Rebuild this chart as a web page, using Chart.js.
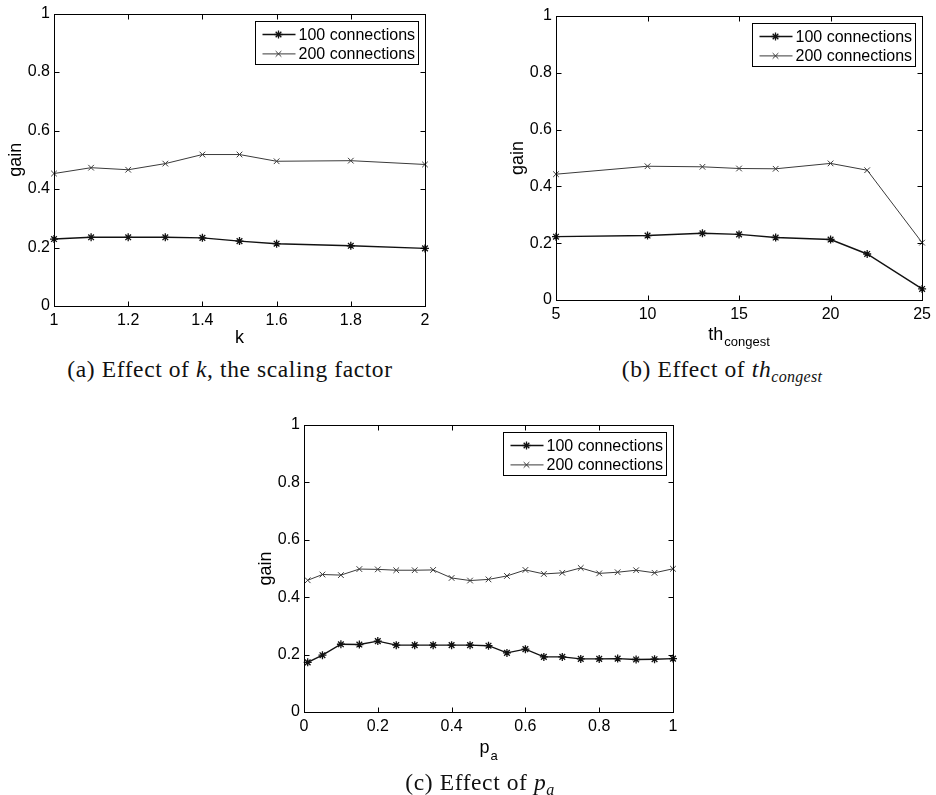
<!DOCTYPE html>
<html>
<head>
<meta charset="utf-8">
<title>Gain vs. k, th_congest and p_a</title>
<script src="https://cdn.jsdelivr.net/npm/chart.js@4.4.1/dist/chart.umd.min.js"></script>
<style>
  body { margin: 0; background: #fff; }
  #page { position: relative; width: 936px; height: 795px; overflow: hidden; }
  canvas { position: absolute; }
  .caption {
    position: absolute;
    width: 500px;
    text-align: center;
    font-family: "Liberation Serif", "DejaVu Serif", serif;
    font-size: 23.5px;
    letter-spacing: 0.6px;
    line-height: 26px;
    color: #111;
    white-space: nowrap;
  }
  .caption sub { font-size: 16px; line-height: 0; vertical-align: -5px; letter-spacing: 0.3px; }
</style>
</head>
<body>
<div id="page">
  <canvas id="chartK" width="460" height="355" style="left:0;top:0"></canvas>
  <canvas id="chartTh" width="466" height="355" style="left:470px;top:0"></canvas>
  <canvas id="chartPa" width="450" height="380" style="left:250px;top:390px"></canvas>
  <div class="caption" style="left:-20px;top:356px">(a) Effect of <i>k</i>, the scaling factor</div>
  <div class="caption" style="left:472px;top:356px">(b) Effect of <i>th<sub>congest</sub></i></div>
  <div class="caption" style="left:230px;top:769px">(c) Effect of <i>p<sub>a</sub></i></div>
</div>

<script>
// series labels
const seriesNames = ["100 connections", "200 connections"];

// shared gain axis
const gainTicks = [0, 0.2, 0.4, 0.6, 0.8, 1];

// (a) scaling factor k
const kValues = [1, 1.1, 1.2, 1.3, 1.4, 1.5, 1.6, 1.8, 2];
const kTicks = [1, 1.2, 1.4, 1.6, 1.8, 2];
const gainK100 = [0.229, 0.235, 0.235, 0.235, 0.233, 0.222, 0.213, 0.206, 0.197];
const gainK200 = [0.453, 0.473, 0.466, 0.487, 0.518, 0.518, 0.495, 0.497, 0.484];

// (b) congestion threshold
const thValues = [5, 10, 13, 15, 17, 20, 22, 25];
const thTicks = [5, 10, 15, 20, 25];
const gainTh100 = [0.223, 0.227, 0.235, 0.231, 0.22, 0.213, 0.162, 0.039];
const gainTh200 = [0.443, 0.471, 0.469, 0.463, 0.462, 0.481, 0.457, 0.202];

// (c) p_a
const paValues = [0.01, 0.05, 0.1, 0.15, 0.2, 0.25, 0.3, 0.35, 0.4, 0.45, 0.5,
                  0.55, 0.6, 0.65, 0.7, 0.75, 0.8, 0.85, 0.9, 0.95, 1];
const paTicks = [0, 0.2, 0.4, 0.6, 0.8, 1];
const gainPa100 = [0.173, 0.198, 0.236, 0.235, 0.247, 0.233, 0.233, 0.233, 0.233, 0.233, 0.231,
                   0.206, 0.219, 0.192, 0.192, 0.185, 0.185, 0.186, 0.183, 0.184, 0.186];
const gainPa200 = [0.459, 0.479, 0.477, 0.498, 0.497, 0.494, 0.494, 0.495, 0.467, 0.458, 0.462,
                   0.474, 0.495, 0.481, 0.485, 0.502, 0.483, 0.487, 0.494, 0.485, 0.499];

const SANS = '"Liberation Sans", Arial, Helvetica, sans-serif';
Chart.defaults.font.family = SANS;
Chart.defaults.color = "#000";

const toPoints = (xs, ys) => xs.map((x, i) => ({ x: x, y: ys[i] }));
const fmt = (v) => String(+v.toFixed(2));

// matlab-like box: frame, inward ticks, axis titles and a boxed legend
const matlabBox = {
  id: "matlabBox",
  afterDraw(chart, args, opts) {
    const { ctx, chartArea: area, scales } = chart;
    const L = Math.round(area.left) + 0.5;
    const R = Math.round(area.right) + 0.5;
    const T = Math.round(area.top) + 0.5;
    const B = Math.round(area.bottom) + 0.5;
    ctx.save();

    ctx.strokeStyle = "#000";
    ctx.lineWidth = 1;
    ctx.strokeRect(L, T, R - L, B - T);
    ctx.beginPath();
    scales.x.ticks.forEach((t) => {
      const px = Math.round(scales.x.getPixelForValue(t.value)) + 0.5;
      ctx.moveTo(px, B); ctx.lineTo(px, B - 5);
      ctx.moveTo(px, T); ctx.lineTo(px, T + 5);
    });
    scales.y.ticks.forEach((t) => {
      const py = Math.round(scales.y.getPixelForValue(t.value)) + 0.5;
      ctx.moveTo(L, py); ctx.lineTo(L + 5, py);
      ctx.moveTo(R, py); ctx.lineTo(R - 5, py);
    });
    ctx.stroke();

    // x title with optional subscript
    const xt = opts.xTitle;
    ctx.fillStyle = "#000";
    ctx.textAlign = "left";
    ctx.textBaseline = "alphabetic";
    ctx.font = "18px " + SANS;
    const wMain = ctx.measureText(xt.main).width;
    ctx.font = "13px " + SANS;
    const wSub = xt.sub ? ctx.measureText(xt.sub).width + 1 : 0;
    const sx = (area.left + area.right) / 2 - (wMain + wSub) / 2;
    const base = area.bottom + xt.offset;
    ctx.font = "18px " + SANS;
    ctx.fillText(xt.main, sx, base);
    if (xt.sub) {
      ctx.font = "13px " + SANS;
      ctx.fillText(xt.sub, sx + wMain + 1, base + xt.subDrop);
    }

    // y title
    ctx.save();
    ctx.translate(area.left - 38, (area.top + area.bottom) / 2);
    ctx.rotate(-Math.PI / 2);
    ctx.textAlign = "center";
    ctx.textBaseline = "middle";
    ctx.font = "18px " + SANS;
    ctx.fillText(opts.yTitle, 0, 0);
    ctx.restore();

    // legend box in the upper right corner
    const lw = 163, lh = 43;
    const bx = Math.round(area.right - 7 - lw) + 0.5;
    const by = Math.round(area.top + 7) + 0.5;
    ctx.fillStyle = "#fff";
    ctx.fillRect(bx, by, lw, lh);
    ctx.strokeStyle = "#000";
    ctx.lineWidth = 1;
    ctx.strokeRect(bx, by, lw, lh);
    chart.data.datasets.forEach((ds, i) => {
      const ry = by + 13 + i * 19.4;
      ctx.strokeStyle = ds.borderColor;
      ctx.lineWidth = ds.borderWidth;
      ctx.beginPath();
      ctx.moveTo(bx + 7, ry);
      ctx.lineTo(bx + 40, ry);
      ctx.stroke();
      ctx.lineWidth = ds.pointBorderWidth;
      ctx.fillStyle = ds.borderColor;
      Chart.helpers.drawPoint(ctx, {
        pointStyle: ds.pointStyle,
        radius: ds.pointRadius,
        borderWidth: ds.pointBorderWidth,
        rotation: 0
      }, bx + 23, ry);
      ctx.fillStyle = "#000";
      ctx.font = "16px " + SANS;
      ctx.textAlign = "left";
      ctx.textBaseline = "middle";
      ctx.fillText(ds.label, bx + 43, ry + 1);
    });

    ctx.restore();
  }
};

function makeChart(id, cfg) {
  return new Chart(document.getElementById(id), {
    type: "line",
    data: {
      datasets: [
        {
          label: seriesNames[0],
          data: toPoints(cfg.xs, cfg.g100),
          borderColor: "#111",
          borderWidth: 1.4,
          pointStyle: "star",
          pointRadius: 4,
          pointBorderWidth: 1.3,
          pointBorderColor: "#111",
          pointBackgroundColor: "#111",
          clip: false
        },
        {
          label: seriesNames[1],
          data: toPoints(cfg.xs, cfg.g200),
          borderColor: "#3a3a3a",
          borderWidth: 1,
          pointStyle: "crossRot",
          pointRadius: 4,
          pointBorderWidth: 1,
          pointBorderColor: "#3a3a3a",
          pointBackgroundColor: "#3a3a3a",
          clip: false
        }
      ]
    },
    options: {
      responsive: false,
      animation: false,
      layout: { padding: cfg.padding },
      plugins: {
        legend: { display: false },
        tooltip: { enabled: false },
        matlabBox: { xTitle: cfg.xTitle, yTitle: "gain" }
      },
      scales: {
        x: {
          type: "linear",
          min: cfg.xTicks[0],
          max: cfg.xTicks[cfg.xTicks.length - 1],
          afterBuildTicks: (s) => { s.ticks = cfg.xTicks.map((v) => ({ value: v })); },
          afterFit: (s) => { s.height = cfg.xAxisHeight; },
          ticks: { padding: 5, font: { size: 16 }, callback: fmt, maxRotation: 0 },
          grid: { display: false, drawTicks: false },
          border: { display: false }
        },
        y: {
          min: 0,
          max: 1,
          afterBuildTicks: (s) => { s.ticks = gainTicks.map((v) => ({ value: v })); },
          afterFit: (s) => { s.width = cfg.yAxisWidth; },
          ticks: { padding: 4, font: { size: 16 }, callback: fmt },
          grid: { display: false, drawTicks: false },
          border: { display: false }
        }
      }
    },
    plugins: [matlabBox]
  });
}

makeChart("chartK", {
  xs: kValues, g100: gainK100, g200: gainK200, xTicks: kTicks,
  padding: { left: 0, top: 13, right: 35, bottom: 0 },
  yAxisWidth: 54, xAxisHeight: 49,
  xTitle: { main: "k", offset: 37 }
});

makeChart("chartTh", {
  xs: thValues, g100: gainTh100, g200: gainTh200, xTicks: thTicks,
  padding: { left: 0, top: 16, right: 10, bottom: 0 },
  yAxisWidth: 86, xAxisHeight: 55,
  xTitle: { main: "th", sub: "congest", offset: 40, subDrop: 6 }
});

makeChart("chartPa", {
  xs: paValues, g100: gainPa100, g200: gainPa200, xTicks: paTicks,
  padding: { left: 0, top: 35, right: 27, bottom: 0 },
  yAxisWidth: 54, xAxisHeight: 58,
  xTitle: { main: "p", sub: "a", offset: 41, subDrop: 7 }
});
</script>
</body>
</html>
